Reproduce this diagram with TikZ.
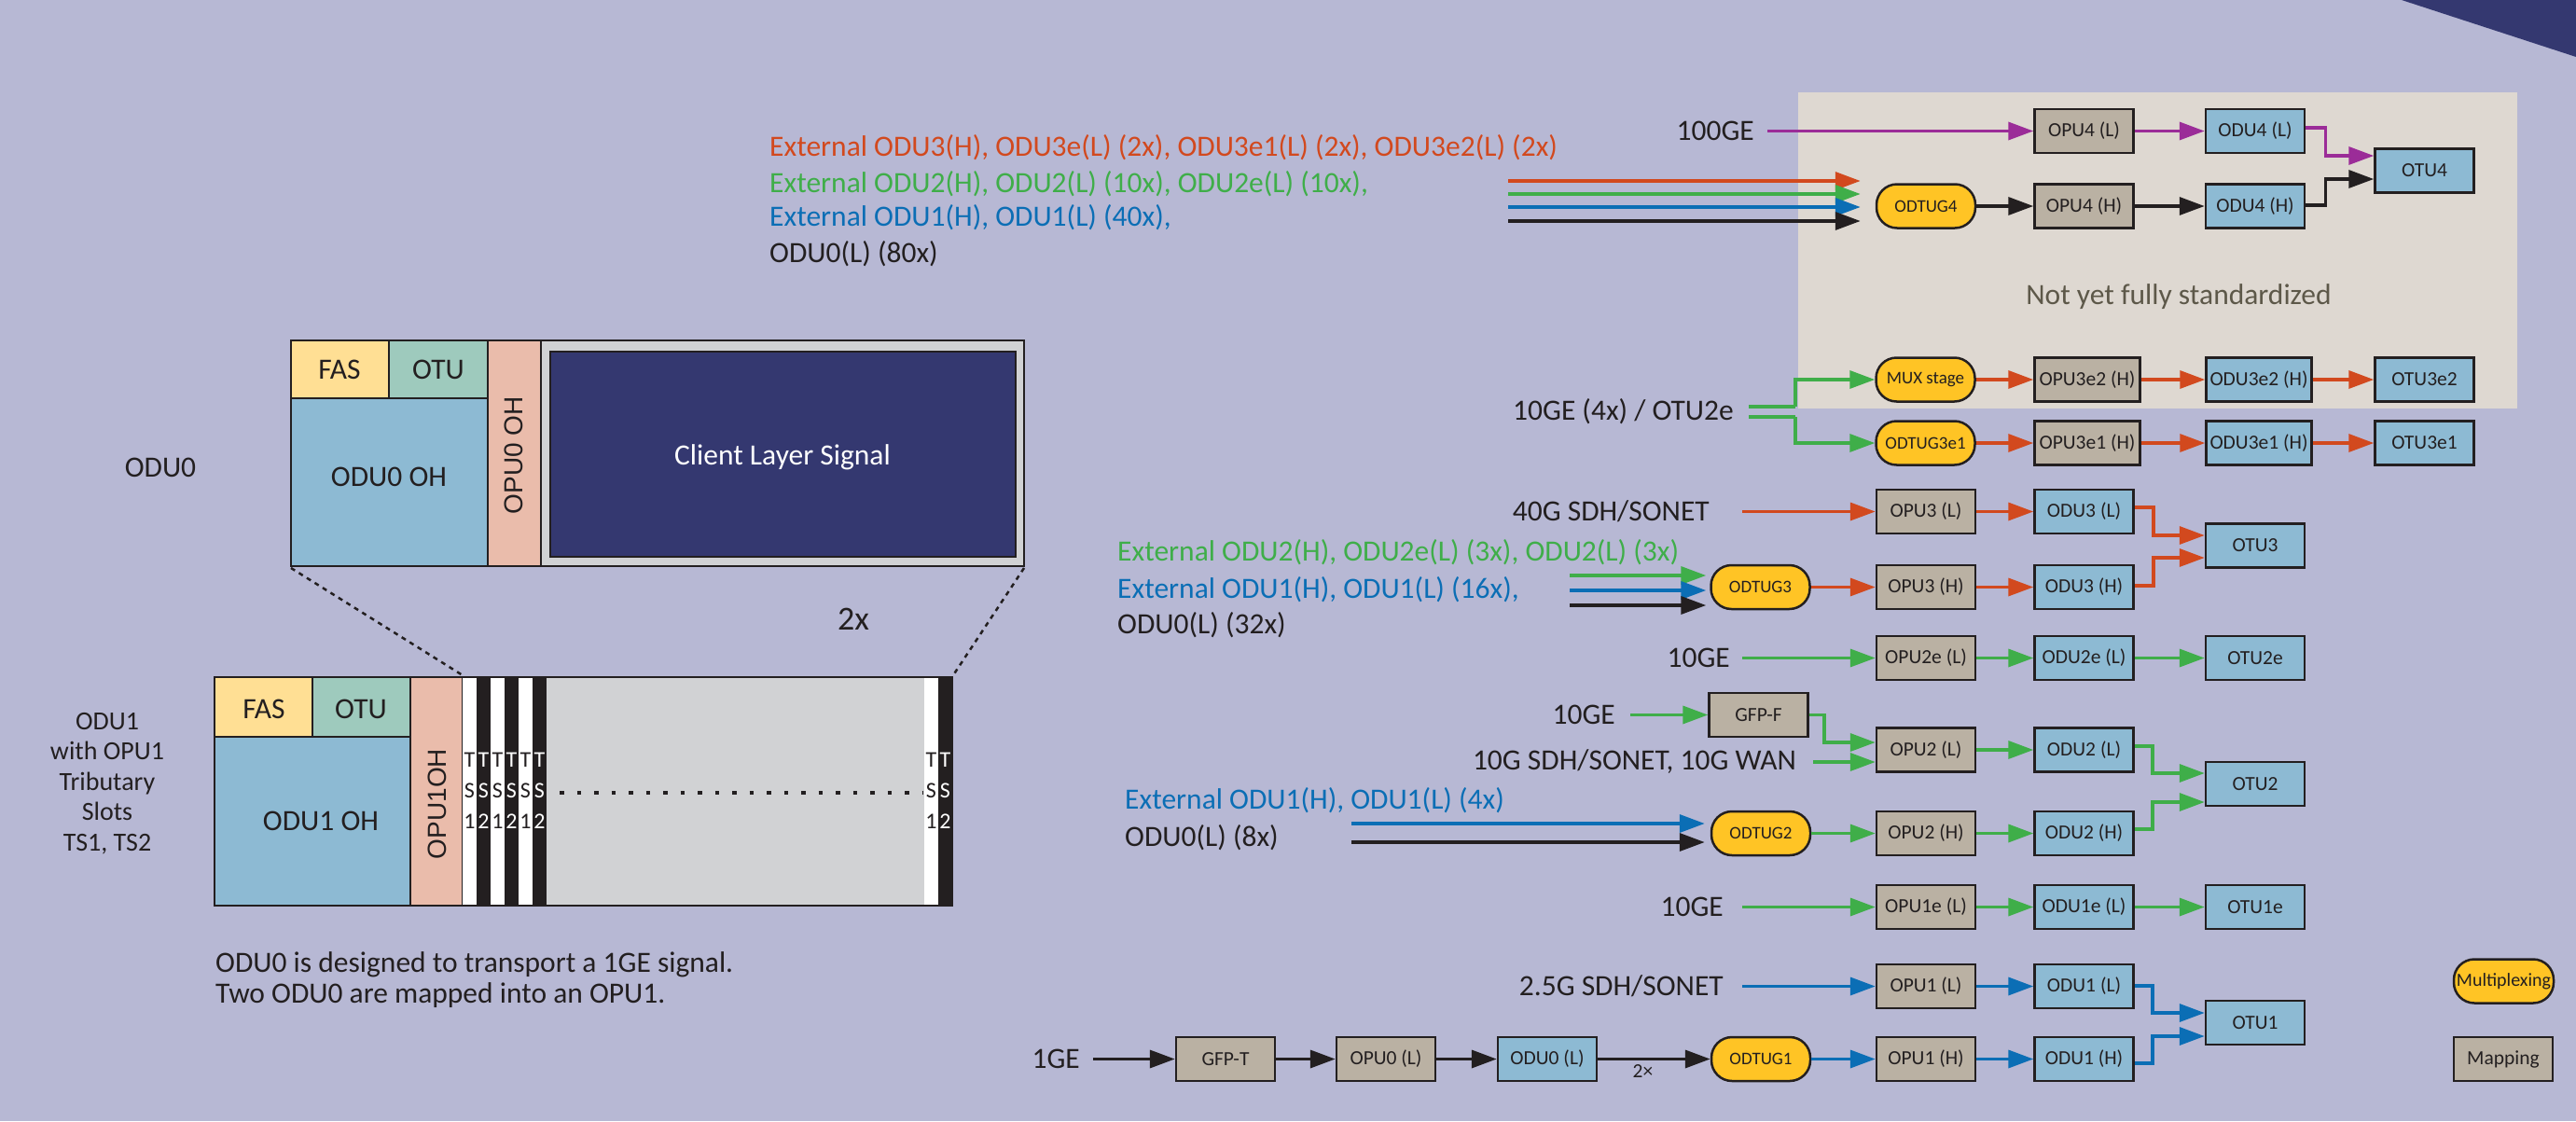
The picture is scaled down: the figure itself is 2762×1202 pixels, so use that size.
\documentclass[tikz,border=0pt]{standalone}
\usepackage{fontspec}
\setmainfont{Carlito}
\newfontfamily\rotfont{Liberation Sans}
\usetikzlibrary{arrows.meta}
\definecolor{bg}{HTML}{B7B8D4}
\definecolor{navy}{HTML}{343870}
\definecolor{panel}{HTML}{DED8D1}
\definecolor{tan}{HTML}{BAB1A3}
\definecolor{lb}{HTML}{8DBAD3}
\definecolor{yel}{HTML}{FFC425}
\definecolor{dk}{HTML}{231F20}
\definecolor{cred}{HTML}{D2491E}
\definecolor{cgreen}{HTML}{3FAE49}
\definecolor{cblue}{HTML}{0B6EB5}
\definecolor{cpurp}{HTML}{9B2C98}
\definecolor{fasc}{HTML}{FFDF94}
\definecolor{otuc}{HTML}{9ECABD}
\definecolor{opuoh}{HTML}{EABCAB}
\definecolor{grayc}{HTML}{D1D2D4}
\definecolor{notyet}{HTML}{5D5849}
\newcommand{\FBig}{\fontsize{31.5}{38}\selectfont}
\newcommand{\FBox}{\fontsize{21.5}{24}\selectfont}
\newcommand{\FPill}{\fontsize{19}{22}\selectfont}
\newcommand{\FLeg}{\fontsize{20}{22}\selectfont}
\newcommand{\FTS}{\fontsize{24}{33}\selectfont}
\newcommand{\FRot}{\rotfont\fontsize{28}{30}\selectfont}
\tikzset{
  box/.style={draw=dk, line width=2.5pt, minimum width=106pt, minimum height=47pt, inner sep=0pt, text=dk, font=\FBox},
  opu/.style={box, fill=tan},
  odu/.style={box, fill=lb},
  pill/.style={box, fill=yel, rounded corners=22pt, font=\FPill},
  lab/.style={font=\FBig, text=dk, inner sep=0pt},
  ar/.style={line width=3.5pt, -{Triangle[length=27pt,width=19pt]}},
  ared/.style={ar, draw=cred},
  agrn/.style={ar, draw=cgreen},
  ablu/.style={ar, draw=cblue},
  ablk/.style={ar, draw=dk},
  apur/.style={ar, draw=cpurp},
  cell/.style={draw=dk, line width=2pt},
  celltext/.style={font=\FBig, text=dk, inner sep=0pt},
  tsdot/.style={dk, line width=4pt, dash pattern=on 4.5pt off 14pt},
  zoomline/.style={dk, line width=2.5pt, dash pattern=on 5pt off 5pt}
}
\begin{document}
\begin{tikzpicture}[x=1pt,y=-1pt]
\fill[bg] (0,0) rectangle (2762,1202);
\useasboundingbox (0,0) rectangle (2762,1202);
\fill[navy] (2575,0) -- (2762,0) -- (2762,61) -- cycle;
\fill[panel] (1928,99) rectangle (2699,438);
\node[font=\FBig, text=notyet] (nyfs) at (2336,318) {Not yet fully standardized};

% ---------- left: ODU0 frame
\filldraw[cell, fill=fasc] (312,365) rectangle (417,427);
\filldraw[cell, fill=otuc] (417,365) rectangle (523,427);
\filldraw[cell, fill=lb] (312,427) rectangle (523,607);
\filldraw[cell, fill=opuoh] (523,365) rectangle (580,607);
\filldraw[dk, line width=2.5pt, fill=grayc] (580,365) rectangle (1098,607);
\filldraw[dk, line width=1.5pt, fill=navy] (590,377) rectangle (1089,597);
\node[celltext] (fas0) at (364,396) {FAS};
\node[celltext] (otu0) at (470,396) {OTU};
\node[celltext] (oh0) at (417,511) {ODU0 OH};
\node[font=\FRot, text=dk, rotate=90] (opu0oh) at (551,488) {OPU0 OH};
\node[celltext, text=white] (cls) at (839,490) {Client Layer Signal};
\node[lab] (lodu0) at (172,501) {ODU0};

% ---------- left: ODU1 frame
\filldraw[cell, fill=fasc] (230,726) rectangle (335,790);
\filldraw[cell, fill=otuc] (335,726) rectangle (440,790);
\filldraw[cell, fill=lb] (230,790) rectangle (440,971);
\filldraw[cell, fill=opuoh] (440,726) rectangle (496,971);
\fill[grayc] (586,727) rectangle (991,970);
\foreach \xa/\xb/\fc/\tc/\d [count=\k] in {496/511/white/dk/1, 511/526/dk/white/2, 526/541/white/dk/1, 541/556/dk/white/2, 556/571/white/dk/1, 571/586/dk/white/2, 991/1006/white/dk/1, 1006/1021/dk/white/2} {
  \fill[\fc] (\xa,727) rectangle (\xb,970);
  \node[text=\tc, font=\FTS, align=center, inner sep=0pt] (ts\k) at ({(\xa+\xb)/2},848) {T\\S\\\d};
}
\draw[tsdot] (600,850) -- (990,850);
\draw[dk, line width=2pt] (230,726) rectangle (1021,971);
\node[celltext] (fas1) at (283,760) {FAS};
\node[celltext] (otu1c) at (387,760) {OTU};
\node[celltext] (oh1) at (344,880) {ODU1 OH};
\node[font=\FRot, text=dk, rotate=90] (opu1oh) at (469,862) {OPU1OH};
\draw[zoomline] (312,609) -- (496,724);
\draw[zoomline] (1098,609) -- (1022,724);
\node[font=\fontsize{36}{40}\selectfont, text=dk] (two) at (915,664) {2x};
\node[lab, align=center, font=\fontsize{28}{32.5}\selectfont] (lodu1) at (115,840) {ODU1\\with OPU1\\Tributary\\Slots\\TS1, TS2};
\node[lab, anchor=west] (cap1) at (231,1034) {ODU0 is designed to transport a 1GE signal.};
\node[lab, anchor=west] (cap2) at (231,1067) {Two ODU0 are mapped into an OPU1.};

% ---------- input texts
\node[lab, anchor=west, text=cred] (t1) at (825,158) {External ODU3(H), ODU3e(L) (2x), ODU3e1(L) (2x), ODU3e2(L) (2x)};
\node[lab, anchor=west, text=cgreen] (t2) at (825,197) {External ODU2(H), ODU2(L) (10x), ODU2e(L) (10x),};
\node[lab, anchor=west, text=cblue] (t3) at (825,233) {External ODU1(H), ODU1(L) (40x),};
\node[lab, anchor=west] (t4) at (825,272) {ODU0(L) (80x)};
\node[lab, anchor=west, text=cgreen] (m1) at (1198,592) {External ODU2(H), ODU2e(L) (3x), ODU2(L) (3x)};
\node[lab, anchor=west, text=cblue] (m2) at (1198,632) {External ODU1(H), ODU1(L) (16x),};
\node[lab, anchor=west] (m3) at (1198,670) {ODU0(L) (32x)};
\node[lab, anchor=west, text=cblue] (b1) at (1206,858) {External ODU1(H), ODU1(L) (4x)};
\node[lab, anchor=west] (b2) at (1206,898) {ODU0(L) (8x)};

\node[lab, anchor=east] (l100) at (1881,140.5) {100GE};
\node[lab, anchor=east] (l10g4) at (1859,441) {10GE (4x) / OTU2e};
\node[lab, anchor=east] (l40g) at (1833,548.5) {40G SDH/SONET};
\node[lab, anchor=east] (l10a) at (1855,705.5) {10GE};
\node[lab, anchor=east] (l10b) at (1732,766.5) {10GE};
\node[lab, anchor=east] (l10sdh) at (1926,817) {10G SDH/SONET, 10G WAN};
\node[lab, anchor=east] (l10c) at (1848,972.5) {10GE};
\node[lab, anchor=east] (l25) at (1848,1057.5) {2.5G SDH/SONET};
\node[lab, anchor=east] (l1ge) at (1158,1135.5) {1GE};

% ---------- nodes
\node[opu] (opu4l) at (2234.5,140.5) {OPU4 (L)};
\node[odu] (odu4l) at (2418,140.5) {ODU4 (L)};
\node[odu] (otu4) at (2599.5,183) {OTU4};
\node[pill] (odtug4) at (2065,221) {ODTUG4};
\node[opu] (opu4h) at (2234.5,221) {OPU4 (H)};
\node[odu] (odu4h) at (2418,221) {ODU4 (H)};

\node[pill] (mux) at (2064.5,407) {MUX stage};
\node[opu, minimum width=113pt] (opu3e2) at (2238,407) {OPU3e2 (H)};
\node[odu, minimum width=113pt] (odu3e2) at (2422,407) {ODU3e2 (H)};
\node[odu] (otu3e2) at (2599.5,407) {OTU3e2};
\node[pill] (odtug3e1) at (2064.5,475) {ODTUG3e1};
\node[opu, minimum width=113pt] (opu3e1) at (2238,475) {OPU3e1 (H)};
\node[odu, minimum width=113pt] (odu3e1) at (2422,475) {ODU3e1 (H)};
\node[odu] (otu3e1) at (2599.5,475) {OTU3e1};

\node[opu] (opu3l) at (2065,548.5) {OPU3 (L)};
\node[odu] (odu3l) at (2234.5,548.5) {ODU3 (L)};
\node[odu] (otu3) at (2418,585) {OTU3};
\node[pill] (odtug3) at (1887.5,629.5) {ODTUG3};
\node[opu] (opu3h) at (2065,629.5) {OPU3 (H)};
\node[odu] (odu3h) at (2234.5,629.5) {ODU3 (H)};

\node[opu] (opu2e) at (2065,705.5) {OPU2e (L)};
\node[odu] (odu2e) at (2234.5,705.5) {ODU2e (L)};
\node[odu] (otu2e) at (2418,705.5) {OTU2e};

\node[opu] (gfpf) at (1885.5,766.5) {GFP-F};
\node[opu] (opu2l) at (2065,804) {OPU2 (L)};
\node[odu] (odu2l) at (2234.5,804) {ODU2 (L)};
\node[odu] (otu2) at (2418,840.5) {OTU2};
\node[pill] (odtug2) at (1888,893.5) {ODTUG2};
\node[opu] (opu2h) at (2065,893.5) {OPU2 (H)};
\node[odu] (odu2h) at (2234.5,893.5) {ODU2 (H)};

\node[opu] (opu1e) at (2065,972.5) {OPU1e (L)};
\node[odu] (odu1e) at (2234.5,972.5) {ODU1e (L)};
\node[odu] (otu1e) at (2418,972.5) {OTU1e};

\node[opu] (opu1l) at (2065,1057.5) {OPU1 (L)};
\node[odu] (odu1l) at (2234.5,1057.5) {ODU1 (L)};
\node[odu] (otu1) at (2418,1096.5) {OTU1};
\node[opu] (gfpt) at (1314,1135.5) {GFP-T};
\node[opu] (opu0l) at (1486,1135.5) {OPU0 (L)};
\node[odu] (odu0l) at (1659,1135.5) {ODU0 (L)};
\node[pill] (odtug1) at (1888,1135.5) {ODTUG1};
\node[opu] (opu1h) at (2065,1135.5) {OPU1 (H)};
\node[odu] (odu1h) at (2234.5,1135.5) {ODU1 (H)};

\node[pill, font=\FLeg, minimum width=107pt] (legmux) at (2684.5,1052) {Multiplexing};
\node[opu] (legmap) at (2684,1135.5) {Mapping};

% ---------- connectors
% OTU4
\draw[apur] ([xshift=14pt]l100.east) -- (opu4l.west);
\draw[apur] (opu4l) -- (odu4l);
\draw[apur] ([yshift=3.5pt]odu4l.east) -- ++(21,0) |- ([yshift=16pt]otu4.west);
\draw[ablk] (odtug4) -- (opu4h);
\draw[ablk] (opu4h) -- (odu4h);
\draw[ablk] ([yshift=1pt]odu4h.east) -- ++(21,0) |- ([yshift=-9pt]otu4.west);
\coordinate (s4a) at (1617,194);
\coordinate (s4b) at (1617,208);
\coordinate (s4c) at (1617,222);
\coordinate (s4d) at (1617,237);
\draw[ared] (s4a) -- ([xshift=-16pt,yshift=27pt]odtug4.west);
\draw[agrn] (s4b) -- ([xshift=-16pt,yshift=13pt]odtug4.west);
\draw[ablu] (s4c) -- ([xshift=-16pt,yshift=-1pt]odtug4.west);
\draw[ablk] (s4d) -- ([xshift=-16pt,yshift=-16pt]odtug4.west);
% OTU3e2 / OTU3e1
\draw[agrn, -] ([xshift=16pt,yshift=5pt]l10g4.east) -- ++(50,0) coordinate (k1);
\draw[agrn] (k1) |- (mux.west);
\draw[agrn, -] ([xshift=16pt,yshift=-6pt]l10g4.east) -- ++(50,0) coordinate (k2);
\draw[agrn] (k2) |- (odtug3e1.west);
\draw[ared] (mux) -- (opu3e2);
\draw[ared] (opu3e2) -- (odu3e2);
\draw[ared] (odu3e2) -- (otu3e2);
\draw[ared] (odtug3e1) -- (opu3e1);
\draw[ared] (opu3e1) -- (odu3e1);
\draw[ared] (odu3e1) -- (otu3e1);
% OTU3
\draw[ared] ([xshift=35pt]l40g.east) -- (opu3l.west);
\draw[ared] (opu3l) -- (odu3l);
\draw[ared] ([yshift=4.5pt]odu3l.east) -- ++(20,0) |- ([yshift=11pt]otu3.west);
\draw[ared] (odtug3) -- (opu3h);
\draw[ared] (opu3h) -- (odu3h);
\draw[ared] ([yshift=1.5pt]odu3h.east) -- ++(20,0) |- ([yshift=-13pt]otu3.west);
\coordinate (s3a) at (1683,617);
\coordinate (s3b) at (1683,633);
\coordinate (s3c) at (1683,649);
\draw[agrn] (s3a) -- ([xshift=-4pt,yshift=12.5pt]odtug3.west);
\draw[ablu] (s3b) -- ([xshift=-4pt,yshift=-3.5pt]odtug3.west);
\draw[ablk] (s3c) -- ([xshift=-4pt,yshift=-19.5pt]odtug3.west);
% OTU2e
\draw[agrn] ([xshift=13pt]l10a.east) -- (opu2e.west);
\draw[agrn] (opu2e) -- (odu2e);
\draw[agrn] (odu2e) -- (otu2e);
% OTU2
\draw[agrn] ([xshift=16pt]l10b.east) -- (gfpf.west);
\draw[agrn] (gfpf.east) -- ++(16,0) |- ([yshift=8pt]opu2l.west);
\draw[agrn] ([xshift=18pt]l10sdh.east) -- ([yshift=-13pt]opu2l.west);
\draw[agrn] (opu2l) -- (odu2l);
\draw[agrn] ([yshift=4pt]odu2l.east) -- ++(19,0) |- ([yshift=11.5pt]otu2.west);
\draw[agrn] (odtug2) -- (opu2h);
\draw[agrn] (opu2h) -- (odu2h);
\draw[agrn] ([yshift=4.5pt]odu2h.east) -- ++(19,0) |- ([yshift=-19.5pt]otu2.west);
\coordinate (s2a) at (1449,883);
\coordinate (s2b) at (1449,903);
\draw[ablu] (s2a) -- ([xshift=-6pt,yshift=10.5pt]odtug2.west);
\draw[ablk] (s2b) -- ([xshift=-6pt,yshift=-9.5pt]odtug2.west);
% OTU1e
\draw[agrn] ([xshift=20pt]l10c.east) -- (opu1e.west);
\draw[agrn] (opu1e) -- (odu1e);
\draw[agrn] (odu1e) -- (otu1e);
% OTU1
\draw[ablu] ([xshift=20pt]l25.east) -- (opu1l.west);
\draw[ablu] (opu1l) -- (odu1l);
\draw[ablu] ([yshift=0.5pt]odu1l.east) -- ++(19,0) |- ([yshift=10.5pt]otu1.west);
\draw[ablu] (odtug1) -- (opu1h);
\draw[ablu] (opu1h) -- (odu1h);
\draw[ablu] ([yshift=-4.5pt]odu1h.east) -- ++(19,0) |- ([yshift=-14.5pt]otu1.west);
\draw[ablk] ([xshift=14pt]l1ge.east) -- (gfpt.west);
\draw[ablk] (gfpt) -- (opu0l);
\draw[ablk] (opu0l) -- (odu0l);
\draw[ablk] (odu0l) -- node[pos=0.4, below=4pt, font=\FBox, text=dk, inner sep=0pt] (twox) {2×} (odtug1);
\end{tikzpicture}
\end{document}
